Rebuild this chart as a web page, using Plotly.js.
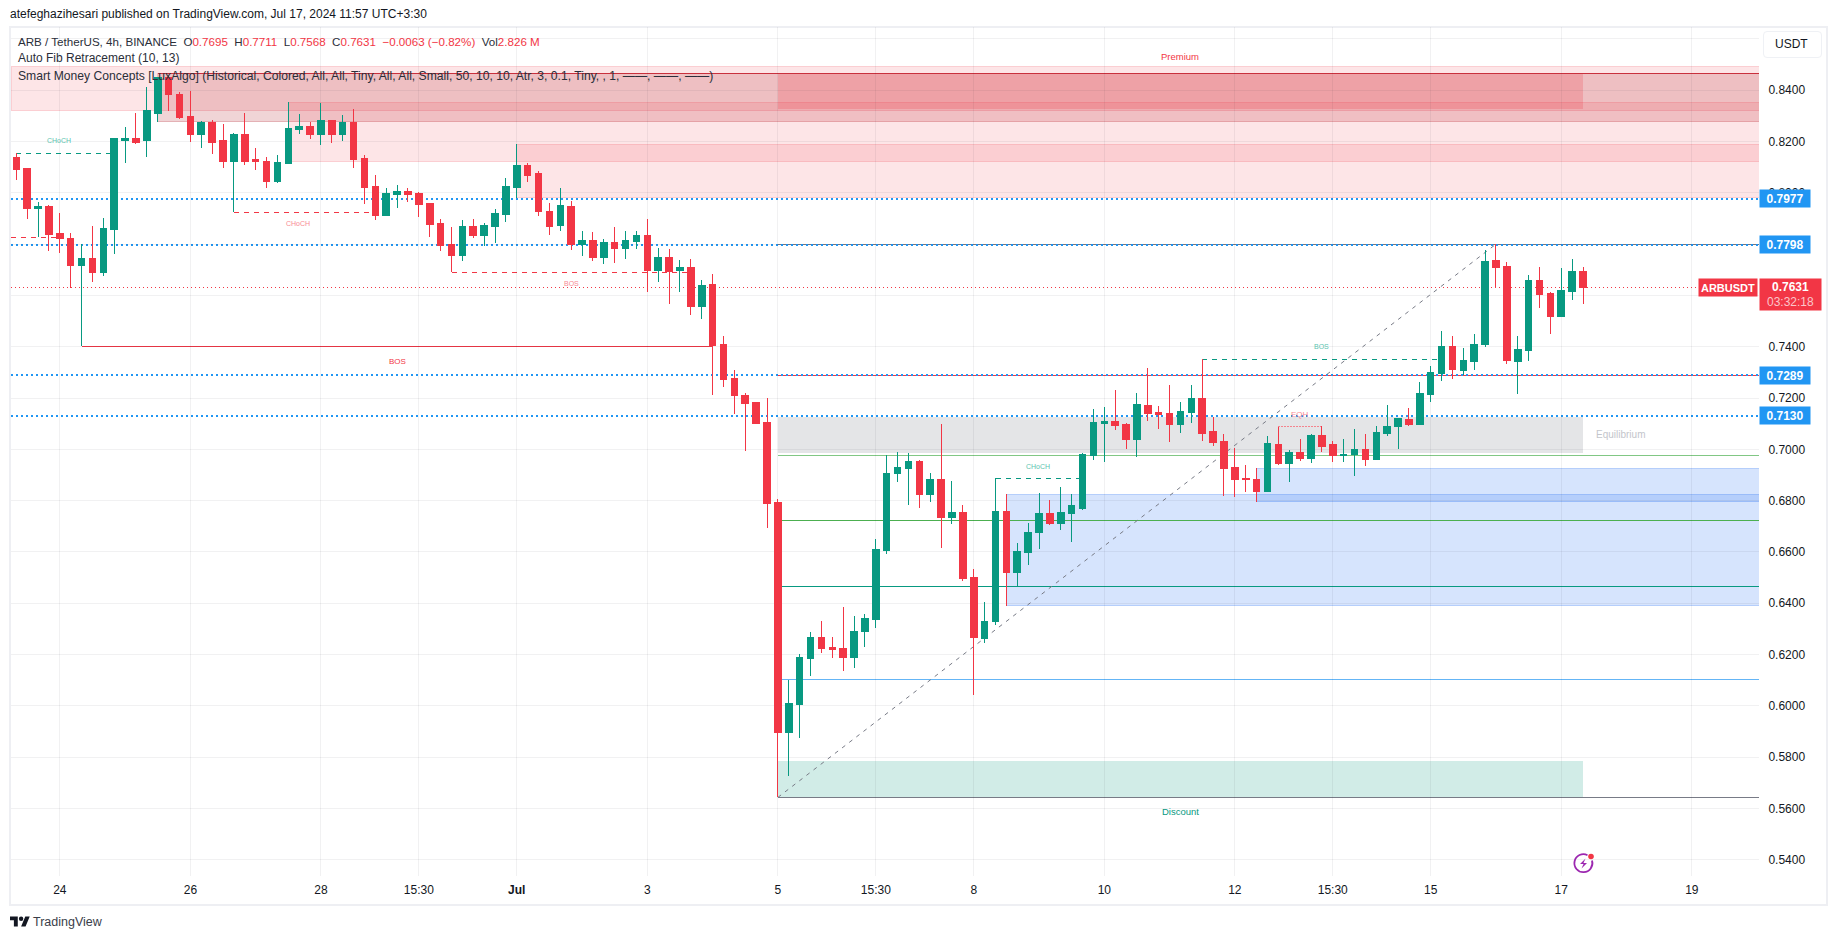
<!DOCTYPE html>
<html>
<head>
<meta charset="utf-8">
<script src="https://cdn.plot.ly/plotly-3.0.1.min.js"></script>
<style>
html,body{margin:0;padding:0;background:#fff;width:1835px;height:939px;overflow:hidden}
#frame{position:absolute;left:9px;top:26px;width:1815px;height:876px;border:2px solid #eeeff3;box-sizing:content-box}
#btn{position:absolute;left:1763px;top:31px;width:57px;height:25px;border:1.5px solid #eff1f5;border-radius:4px}
#chart{position:absolute;left:0;top:0;width:1835px;height:939px}
#logo,#bolt{position:absolute;pointer-events:none}
#chart .shapelayer path{shape-rendering:crispEdges}
#chart .boxlayer path{shape-rendering:crispEdges}
</style>
</head>
<body>
<div id="frame"></div>
<div id="btn"></div>
<div id="chart"></div>
<svg id="logo" style="left:10px;top:914px" width="20" height="16" viewBox="0 0 36 28"><path fill="#131722" d="M14 22H7V11H0V4h14v18zM28 22h-8l7.5-18h8L28 22z"/><circle fill="#131722" cx="20" cy="8" r="4"/></svg>
<svg id="bolt" style="left:1571px;top:851px" width="26" height="26" viewBox="0 0 26 26">
<path d="M16.5 4.2 A9 9 0 1 0 21 9.6" fill="none" stroke="#9c27b0" stroke-width="1.8"/>
<path d="M14.5 7.5 L9 13 L12.5 13 L10.5 17.5 L16 12 L12.5 12 Z" fill="#9c27b0"/>
<circle cx="20" cy="5.5" r="2.8" fill="#f23645"/>
</svg>
<script>
// OHLC values, one 4h bar per entry
var open = [.8136,.8093,.7937,.7948,.7843,.7823,.7718,.7742,.7691,.7858,.8202,.8213,.8202,.8311,.8450,.8385,.8299,.8229,.8276,.8202,.8124,.8229,.8128,.8124,.8046,.8116,.8245,.8260,.8229,.8280,.8229,.8276,.8132,.8026,.7913,.7995,.8007,.7999,.7960,.7882,.7800,.7757,.7870,.7835,.7870,.7917,.8019,.8108,.8077,.7929,.7874,.7948,.7800,.7816,.7746,.7808,.7781,.7812,.7835,.7699,.7746,.7699,.7710,.7558,.7644,.7410,.7278,.7211,.7184,.7106,
.6791,.5897,.6007,.6186,.6268,.6229,.6225,.6190,.6288,.6338,.6607,.6904,.6927,.6954,.6822,.6884,.6736,.6752,.6502,.6264,.6327,.6759,.6518,.6599,.6674,.6748,.6712,.6748,.6771,.6974,
.7099,.7110,.7095,.7040,.7169,.7142,.7138,.7095,.7145,.7200,.7071,.7032,.6931,.6888,.6884,.6837,.7017,.6943,.6989,.6966,.7055,.7017,.6974,.6978,.7001,.6962,.7063,.7087,.7118,.7095,.7212,.7297,.7399,.7309,.7344,.7407,.7738,.7711,.7344,.7387,.7660,.7609,.7516,.7617,.7695];
var high = [.8154,.8095,.7964,.7952,.7921,.7843,.7800,.7870,.7901,.8210,.8256,.8311,.8412,.8453,.8454,.8392,.8397,.8280,.8282,.8268,.8233,.8311,.8174,.8139,.8147,.8354,.8307,.8276,.8350,.8280,.8303,.8327,.8147,.8069,.8018,.8030,.8018,.8003,.7960,.7898,.7867,.7894,.7898,.7882,.7937,.8058,.8190,.8116,.8085,.7960,.8019,.7968,.7851,.7847,.7820,.7867,.7851,.7851,.7898,.7785,.7781,.7738,.7742,.7660,.7683,.7441,.7309,.7219,.7184,.7200,
.6806,.6100,.6202,.6288,.6330,.6268,.6385,.6350,.6358,.6650,.6978,.6989,.6985,.6958,.6908,.7099,.6876,.6783,.6533,.6404,.6887,.6826,.6634,.6712,.6830,.6802,.6853,.6826,.6986,.7157,
.7165,.7231,.7102,.7219,.7317,.7169,.7251,.7184,.7251,.7352,.7126,.7059,.7005,.6939,.6927,.7052,.7087,.6997,.7040,.7059,.7091,.7032,.7040,.7079,.7059,.7091,.7173,.7122,.7161,.7262,.7325,.7461,.7442,.7395,.7449,.7777,.7800,.7730,.7442,.7680,.7711,.7613,.7707,.7742,.7711];
var low = [.8050,.7898,.7827,.7773,.7765,.7630,.7401,.7652,.7675,.7761,.8116,.8190,.8139,.8276,.8319,.8288,.8198,.8174,.8151,.8096,.7924,.8108,.8089,.8018,.8038,.8116,.8229,.8210,.8186,.8194,.8202,.8096,.7956,.7894,.7913,.7940,.7964,.7906,.7828,.7773,.7690,.7734,.7824,.7792,.7804,.7886,.7980,.8042,.7909,.7835,.7851,.7777,.7753,.7734,.7722,.7726,.7742,.7781,.7613,.7652,.7566,.7613,.7523,.7508,.7211,.7243,.7137,.6993,.7099,.6693,
.5643,.5726,.5874,.6116,.6206,.6186,.6135,.6147,.6229,.6303,.6592,.6872,.6783,.6771,.6794,.6615,.6709,.6486,.6042,.6245,.6315,.6389,.6467,.6549,.6611,.6705,.6685,.6638,.6763,.6958,
.6950,.7075,.7001,.6970,.7110,.7079,.7028,.7063,.7102,.7032,.7013,.6818,.6814,.6833,.6794,.6837,.6939,.6872,.6954,.6946,.6989,.6950,.6950,.6896,.6935,.6958,.7052,.7001,.7091,.7095,.7184,.7266,.7274,.7289,.7309,.7399,.7633,.7332,.7215,.7344,.7551,.7449,.7516,.7582,.7568];
var close = [.8089,.7937,.7948,.7839,.7820,.7718,.7742,.7691,.7862,.8210,.8213,.8198,.8319,.8450,.8385,.8295,.8229,.8276,.8198,.8124,.8229,.8124,.8124,.8046,.8120,.8249,.8260,.8229,.8280,.8229,.8276,.8128,.8022,.7913,.7999,.8007,.7995,.7956,.7878,.7796,.7757,.7867,.7835,.7874,.7921,.8023,.8108,.8069,.7929,.7870,.7952,.7800,.7816,.7746,.7808,.7781,.7816,.7835,.7699,.7746,.7695,.7710,.7558,.7640,.7406,.7274,.7208,.7180,.7099,.6787,
.5897,.6010,.6190,.6268,.6225,.6221,.6190,.6291,.6342,.6611,.6904,.6931,.6954,.6822,.6884,.6736,.6752,.6498,.6268,.6330,.6759,.6518,.6603,.6677,.6748,.6712,.6752,.6779,.6978,.7103,
.7110,.7091,.7040,.7173,.7138,.7134,.7095,.7149,.7200,.7063,.7028,.6927,.6884,.6884,.6837,.7021,.6943,.6989,.6966,.7055,.7012,.6974,.6981,.7001,.6962,.7067,.7087,.7122,.7095,.7216,.7301,.7399,.7313,.7348,.7410,.7734,.7707,.7348,.7391,.7660,.7605,.7516,.7621,.7695,.7631];
var barIndex = close.map(function(_, i){ return i; });

var xTickIndex = [4,16,28,37,46,58,70,79,88,100,112,121,130,142,154];
var xTickText  = ['24','26','28','15:30','<b>Jul</b>','3','5','15:30','8','10','12','15:30','15','17','19'];
var yTicks = [.54,.56,.58,.60,.62,.64,.66,.68,.70,.72,.74,.76,.78,.80,.82,.84,.86];
var yTickText = ['0.5400','0.5600','0.5800','0.6000','0.6200','0.6400','0.6600','0.6800','0.7000','0.7200','0.7400','','','0.8000','0.8200','0.8400',''];

var xLeft = -0.487, xRight = 160.175, yBottom = 0.53365, yTop = 0.86464;
var zoneEnd = 144, fibStart = 70;

// zones: [first bar, last bar, upper price, lower price]
var premiumBand   = [xLeft, xRight, .8494, .8320];
var supplyA       = [13, xRight, .8466, .8277];
var supplyB       = [25, xRight, .8354, .8121];
var supplyC       = [46, xRight, .8190, .7981];
var fibPremium    = [fibStart, zoneEnd, .8466, .8327];
var equilibrium   = [fibStart, zoneEnd, .7127, .6987];
var fibDiscount   = [fibStart, zoneEnd, .5785, .5643];
var demandA       = [91, xRight, .6824, .6390];
var demandB       = [114, xRight, .6926, .6796];

var fibLevels = [.7798,.7286,.6976,.6721,.6467,.6104,.5643];
var fibColors = ['#787b86','#f23645','#81c784','#4caf50','#089981','#64b5f6','#787b86'];
var fibDiagonal = [70,.5643,136,.7800];

var userLevels = [.7977,.7798,.7289,.7130];
var lastPrice = .7631;

// structure breaks: [first bar, last bar, price]
var bosSolid = [6,64,.7401];
var chochGreenA = [0,9,.8152];
var chochRedStub = [xLeft,4,.7826];
var chochRedA = [20,33,.7924];
var bosRedDash = [40,62,.7690];
var chochGreenB = [90,98,.6887];
var bosGreenDash = [109,131,.7351];
var eqh = [116,120,.7087];

var labelText  = ['CHoCH','CHoCH','BOS','BOS','CHoCH','BOS','EQH','Equilibrium','Premium','Discount'];
var labelBar   = [3.9,25.9,35,51,93.9,120,118,147.4,107,107];
var labelPrice = [.8203,.7882,.7342,.7647,.6932,.7400,.7135,.7056,.8530,.5587];
var labelColor = ['#5cc4b0','#f88a94','#f23645','#f88a94','#5cc4b0','#5cc4b0','#f88a94','#c3c5cb','#f23645','#089981'];
var labelSize  = [7,7,8,7,7,7,8,10,9.5,9.5];

var FONT = '"Liberation Sans", Arial, sans-serif';
var shapes = [];
function rect(z, fill, line){
  shapes.push({type:'rect',layer:'below',xref:'x',yref:'y',x0:z[0],x1:z[1],y0:z[3],y1:z[2],fillcolor:fill,line:{color:line,width:1}});
}
function hline(x0,x1,y,color,dash,width){
  shapes.push({type:'line',layer:'below',xref:'x',yref:'y',x0:x0,x1:x1,y0:y,y1:y,line:{color:color,width:width||1,dash:dash||'solid'}});
}
rect(premiumBand,'rgba(242,54,69,.13)','rgba(242,54,69,.13)');
rect(supplyA,'rgba(178,40,51,.2)','rgba(178,40,51,.2)');
rect(supplyB,'rgba(242,54,69,.13)','rgba(242,54,69,.13)');
rect(supplyC,'rgba(242,54,69,.13)','rgba(242,54,69,.13)');
rect(fibPremium,'rgba(242,54,69,.22)','rgba(242,54,69,0)');
rect(equilibrium,'rgba(120,123,134,.2)','rgba(120,123,134,0)');
rect(fibDiscount,'rgba(8,153,129,.19)','rgba(8,153,129,0)');
rect(demandA,'rgba(49,121,245,.2)','rgba(49,121,245,.2)');
rect(demandB,'rgba(49,121,245,.2)','rgba(49,121,245,.2)');
hline(supplyA[0],xRight,supplyA[2],'#c9303d');
fibLevels.forEach(function(v,i){ hline(fibStart,xRight,v,fibColors[i]); });
userLevels.forEach(function(v){ hline(xLeft,xRight,v,'#2196f3','2px,3px',2); });
hline(xLeft,xRight,lastPrice,'#f23645','1px,3px',1);
var diagIndex = shapes.length;
shapes.push({type:'line',layer:'below',xref:'x',yref:'y',x0:fibDiagonal[0],y0:fibDiagonal[1],x1:fibDiagonal[2],y1:fibDiagonal[3],line:{color:'#787b86',width:1,dash:'4px,5px'}});
hline(bosSolid[0],bosSolid[1],bosSolid[2],'#f23645');
hline(chochGreenA[0],chochGreenA[1],chochGreenA[2],'#089981','5px,5px');
hline(chochRedStub[0],chochRedStub[1],chochRedStub[2],'#f23645','5px,5px');
hline(chochRedA[0],chochRedA[1],chochRedA[2],'#f23645','5px,5px');
hline(bosRedDash[0],bosRedDash[1],bosRedDash[2],'#f23645','5px,5px');
hline(chochGreenB[0],chochGreenB[1],chochGreenB[2],'#089981','5px,5px');
hline(bosGreenDash[0],bosGreenDash[1],bosGreenDash[2],'#089981','5px,5px');
hline(eqh[0],eqh[1],eqh[2],'#f4848e','2px,1px',1);

var ann = [];
labelText.forEach(function(t,i){
  ann.push({xref:'x',yref:'y',x:labelBar[i],y:labelPrice[i],text:t,showarrow:false,xanchor:'center',yanchor:'middle',
    font:{family:FONT,size:labelSize[i],color:labelColor[i]}});
});
var R = function(s){ return '<span style="color:#f23645">'+s+'</span>'; };
var sp = '\u00a0\u00a0';
var legendLines = [
 'ARB / TetherUS, 4h, BINANCE'+sp+'O'+R('0.7695')+sp+'H'+R('0.7711')+sp+'L'+R('0.7568')+sp+'C'+R('0.7631')+sp+R('\u22120.0063 (\u22120.82%)')+sp+'Vol'+R('2.826\u00a0M'),
 'Auto Fib Retracement (10, 13)',
 'Smart Money Concepts [LuxAlgo] (Historical, Colored, All, All, Tiny, All, All, Small, 50, 10, 10, Atr, 3, 0.1, Tiny, , 1, \u2014\u2014, \u2014\u2014, \u2014\u2014)'
];
var legendY = [.9832,.9629,.9428];
var legendSize = [11.6,12,12.15];
legendLines.forEach(function(t,i){
  ann.push({xref:'paper',yref:'paper',x:0,xshift:5,y:legendY[i],text:t,showarrow:false,xanchor:'left',yanchor:'middle',
    font:{family:FONT,size:legendSize[i],color:'#2a2e39'}});
});
userLevels.forEach(function(v){
  ann.push({xref:'paper',yref:'y',x:1,y:v,text:'<b>'+v.toFixed(4)+'</b>',showarrow:false,xanchor:'left',yanchor:'middle',width:50,height:17,
    bgcolor:'#2196f3',borderpad:0,font:{family:FONT,size:12,color:'#ffffff'},align:'center'});
});
ann.push({xref:'paper',yref:'y',x:1,xshift:-1,y:lastPrice,text:'<b>ARBUSDT</b>',showarrow:false,xanchor:'right',yanchor:'middle',width:58,height:17,
  bgcolor:'#f23645',borderpad:0,font:{family:FONT,size:11,color:'#ffffff'},align:'center'});
ann.push({xref:'paper',yref:'y',x:1,y:lastPrice,yshift:-7,text:'<b>'+lastPrice.toFixed(4)+'</b><br><span style="color:#fbc5ca">03:32:18</span>',showarrow:false,xanchor:'left',yanchor:'middle',width:61,height:31,
  bgcolor:'#f23645',borderpad:0,font:{family:FONT,size:12,color:'#ffffff'},align:'center'});
ann.push({xref:'paper',yref:'paper',x:1,xshift:32,y:1,yshift:-17,text:'USDT',showarrow:false,xanchor:'center',yanchor:'middle',
  font:{family:FONT,size:12,color:'#131722'}});
ann.push({xref:'paper',yref:'paper',x:0,xshift:20,y:0,yshift:-46,text:'TradingView',showarrow:false,xanchor:'left',yanchor:'middle',
  font:{family:FONT,size:12.5,color:'#3a3e49'}});

var trace = {type:'candlestick',x:barIndex,open:open,high:high,low:low,close:close,whiskerwidth:0,
  increasing:{line:{color:'#089981',width:1},fillcolor:'#089981'},
  decreasing:{line:{color:'#f23645',width:1},fillcolor:'#f23645'},hoverinfo:'skip',showlegend:false};

var GRID = 'rgba(42,46,57,.065)';
var layout = {
  width:1835,height:939,autosize:false,showlegend:false,dragmode:false,
  margin:{l:11,r:76,t:27,b:63,pad:0},
  paper_bgcolor:'rgba(0,0,0,0)',plot_bgcolor:'rgba(0,0,0,0)',
  boxgap:.4,boxgroupgap:0,
  title:{text:'atefeghazihesari published on TradingView.com, Jul 17, 2024 11:57 UTC+3:30',xref:'container',yref:'container',x:10/1835,xanchor:'left',y:1-14/939,yanchor:'middle',font:{family:FONT,size:12,color:'#131722'}},
  xaxis:{type:'linear',range:[xLeft,xRight],rangeslider:{visible:false},tickmode:'array',tickvals:xTickIndex,ticktext:xTickText,
    showgrid:true,gridcolor:GRID,gridwidth:1,zeroline:false,showline:false,ticks:'outside',ticklen:3,tickcolor:'rgba(0,0,0,0)',
    tickfont:{family:FONT,size:12,color:'#131722'}},
  yaxis:{side:'right',range:[yBottom,yTop],tickmode:'array',tickvals:yTicks,ticktext:yTickText,
    showgrid:true,gridcolor:GRID,gridwidth:1,zeroline:false,showline:false,ticks:'outside',ticklen:6,tickcolor:'rgba(0,0,0,0)',
    tickfont:{family:FONT,size:12,color:'#131722'}},
  shapes:shapes,annotations:ann
};
Plotly.newPlot('chart',[trace],layout,{displayModeBar:false,staticPlot:true}).then(function(){
  var d = document.querySelector('#chart .shapelayer path[data-index="'+diagIndex+'"]');
  if(d) d.style.shapeRendering='geometricPrecision';
});
</script>
</body>
</html>
